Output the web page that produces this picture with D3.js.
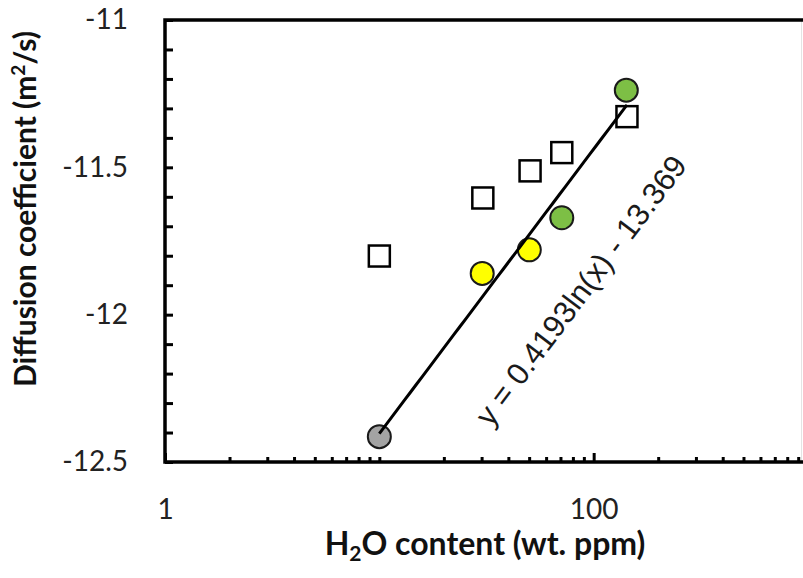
<!DOCTYPE html>
<html>
<head>
<meta charset="utf-8">
<script src="https://cdn.jsdelivr.net/npm/d3@7"></script>
<style>
  body { margin: 0; background: #fff; }
  svg { display: block; }
</style>
</head>
<body>
<svg id="chart" width="803" height="578"></svg>
<script>
// Open squares: measured diffusion coefficients (log10 D, m²/s) vs water content
const squareX = [10, 30.4, 50.5, 71, 143];
const squareY = [-11.801, -11.604, -11.512, -11.450, -11.328];

// Filled circles: second data set, coloured by group
const circleX = [10, 30.2, 50.1, 71, 142];
const circleY = [-12.414, -11.860, -11.780, -11.671, -11.238];
const circleGroup = ["gray", "yellow", "yellow", "green", "green"];
const groupColors = { gray: "#a3a3a3", yellow: "#ffff00", green: "#7dbf45" };

// Logarithmic trendline y = a·ln(x) + b
const trendSlope = 0.4193;
const trendIntercept = -13.369;
const trendRange = [10, 143];

// Axis ticks
const xMajorTicks = [1, 100];
const xMinorTicks = [2, 3, 4, 5, 6, 7, 8, 9, 10, 20, 30, 40, 50, 60, 70, 80, 90,
                     200, 300, 400, 500, 600, 700, 800, 900];
const yMajorTicks = [-12.5, -12, -11.5, -11];
const yMinorTicks = [-12.4, -12.3, -12.2, -12.1, -11.9, -11.8, -11.7, -11.6,
                     -11.4, -11.3, -11.2, -11.1];

const svg = d3.select("#chart");
const plot = { left: 165, right: 808, top: 20, bottom: 462 };

const x = d3.scaleLog().domain([1, 1000]).range([plot.left, plot.right]);
const y = d3.scaleLinear().domain([-12.5, -11]).range([plot.bottom, plot.top]);

const tickFont = "Lato, 'Open Sans', sans-serif";

// faint right edge of the plot frame
svg.append("line")
  .attr("x1", 801.5).attr("x2", 801.5)
  .attr("y1", plot.top).attr("y2", plot.bottom)
  .attr("stroke", "#e4e4e4").attr("stroke-width", 1);

// X axis: minor ticks then labelled major ticks, all pointing inward
const xMinorAxis = d3.axisBottom(x).tickValues(xMinorTicks).tickSizeInner(-5).tickSizeOuter(0).tickFormat("");
const xMajorAxis = d3.axisBottom(x).tickValues(xMajorTicks).tickSizeInner(-9).tickSizeOuter(0)
  .tickPadding(37).tickFormat(d3.format("d"));

const gxMinor = svg.append("g").attr("transform", `translate(0,${plot.bottom})`).call(xMinorAxis);
const gxMajor = svg.append("g").attr("transform", `translate(0,${plot.bottom})`).call(xMajorAxis);
[gxMinor, gxMajor].forEach(g => {
  g.select(".domain").remove();
  g.selectAll(".tick line").attr("stroke", "#000").attr("stroke-width", 3);
});
gxMajor.selectAll(".tick text")
  .attr("font-family", tickFont).attr("font-size", 28).attr("fill", "#222");

// Y axis
const yMinorAxis = d3.axisLeft(y).tickValues(yMinorTicks).tickSizeInner(-8).tickSizeOuter(0).tickFormat("");
const yMajorAxis = d3.axisLeft(y).tickValues(yMajorTicks).tickSizeInner(-8).tickSizeOuter(0)
  .tickPadding(37).tickFormat(d => String(d));

const gyMinor = svg.append("g").attr("transform", `translate(${plot.left},0)`).call(yMinorAxis);
const gyMajor = svg.append("g").attr("transform", `translate(${plot.left},0)`).call(yMajorAxis);
[gyMinor, gyMajor].forEach(g => {
  g.select(".domain").remove();
  g.selectAll(".tick line").attr("stroke", "#000").attr("stroke-width", 3);
});
gyMajor.selectAll(".tick text")
  .attr("font-family", tickFont).attr("font-size", 28).attr("fill", "#222");

// Plot frame
svg.append("rect")
  .attr("x", plot.left).attr("y", plot.top)
  .attr("width", plot.right - plot.left).attr("height", plot.bottom - plot.top)
  .attr("fill", "none").attr("stroke", "#000").attr("stroke-width", 3.5);

// Open squares
const sq = 21;
svg.append("g").selectAll("rect")
  .data(squareX.map((d, i) => ({ x: d, y: squareY[i] })))
  .join("rect")
  .attr("x", d => x(d.x) - sq / 2).attr("y", d => y(d.y) - sq / 2)
  .attr("width", sq).attr("height", sq)
  .attr("fill", "#fff").attr("stroke", "#000").attr("stroke-width", 2.5);

// Filled circles
svg.append("g").selectAll("circle")
  .data(circleX.map((d, i) => ({ x: d, y: circleY[i], g: circleGroup[i] })))
  .join("circle")
  .attr("cx", d => x(d.x)).attr("cy", d => y(d.y)).attr("r", 11.5)
  .attr("fill", d => groupColors[d.g]).attr("stroke", "#1a1a1a").attr("stroke-width", 2);

// Trendline, evaluated along the log axis
const trendPts = d3.range(0, 41).map(i => {
  const lx = Math.log10(trendRange[0]) + (Math.log10(trendRange[1]) - Math.log10(trendRange[0])) * i / 40;
  const xv = Math.pow(10, lx);
  return [xv, trendSlope * Math.log(xv) + trendIntercept];
});
svg.append("path")
  .datum(trendPts)
  .attr("d", d3.line().x(d => x(d[0])).y(d => y(d[1])))
  .attr("fill", "none").attr("stroke", "#000").attr("stroke-width", 3);

// Trendline equation, rotated
svg.append("text")
  .attr("transform", "translate(583,292) rotate(-53)")
  .attr("text-anchor", "middle").attr("dy", "0.26em")
  .attr("font-family", "'Liberation Sans', Arial, sans-serif")
  .attr("font-size", 31).attr("fill", "#1a1a1a")
  .text(`y = ${trendSlope}ln(x) - ${Math.abs(trendIntercept)}`);

// Axis titles
const yTitle = svg.append("text")
  .attr("transform", "translate(36,209) rotate(-90)")
  .attr("text-anchor", "middle")
  .attr("font-family", tickFont).attr("font-weight", "bold")
  .attr("font-size", 30).attr("fill", "#111");
yTitle.append("tspan").text("Diffusion coefficient (m");
yTitle.append("tspan").attr("font-size", 19).attr("dy", "-0.6em").text("2");
yTitle.append("tspan").attr("dy", "0.38em").text("/s)");

const xTitle = svg.append("text")
  .attr("x", 485).attr("y", 555)
  .attr("text-anchor", "middle")
  .attr("font-family", tickFont).attr("font-weight", "bold")
  .attr("font-size", 32).attr("fill", "#111");
xTitle.append("tspan").text("H");
xTitle.append("tspan").attr("font-size", 21).attr("dy", "0.3em").text("2");
xTitle.append("tspan").attr("dy", "-0.2em").text("O content (wt. ppm)");
</script>
</body>
</html>
